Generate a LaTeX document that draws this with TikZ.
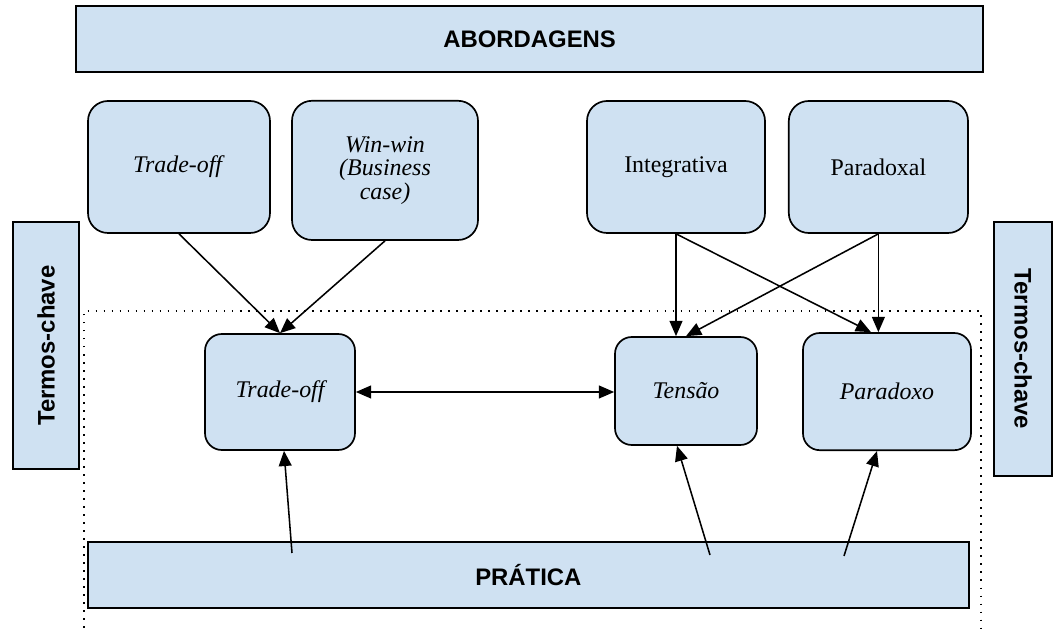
\documentclass[tikz,border=0pt]{standalone}
\usepackage{fontspec}
\setmainfont{Liberation Serif}
\setsansfont{Liberation Sans}
\usepackage{tikz}
\usetikzlibrary{arrows.meta,positioning,calc}
\definecolor{boxblue}{RGB}{207,225,242}

\begin{document}
\begin{tikzpicture}[
    band/.style={rectangle, draw, line width=1.2pt, fill=boxblue, font=\sffamily\bfseries\fontsize{17}{20}\selectfont},
    approach/.style={rectangle, rounded corners=0.5cm, draw, line width=1.2pt, fill=boxblue, align=center, font=\fontsize{17}{16.8}\selectfont, minimum width=4.55cm, minimum height=3.3cm},
    term/.style={rectangle, rounded corners=0.42cm, draw, line width=1.2pt, fill=boxblue, font=\itshape\fontsize{17}{17}\selectfont},
    arrow/.style={-{Triangle[length=0.38cm,width=0.32cm]}, line width=1.1pt},
    darrow/.style={{Triangle[length=0.38cm,width=0.32cm]}-{Triangle[length=0.38cm,width=0.32cm]}, line width=1.1pt},
    frame/.style={line width=1.2pt, dash pattern=on 1.2pt off 4.5pt}
]
\useasboundingbox (0,0) rectangle (26.4,-15.8);

% Practice area
\draw[frame] (2.1,-16.3) -- (2.1,-7.775) -- (24.525,-7.775) -- (24.525,-16.3);

% Approaches
\node[band, minimum width=22.68cm, minimum height=1.65cm] (abord) at (13.24,-0.975) {ABORDAGENS};

\node[approach] (tradeA) at (4.475,-4.175) {\textit{Trade-off}};
\node[approach, minimum width=4.65cm, minimum height=3.48cm] (winwin) at (9.625,-4.26) {\textit{Win-win}\\\textit{(Business}\\\textit{case)}};
\node[approach, minimum width=4.45cm] (integ) at (16.9,-4.175) {Integrativa};
\node[approach, minimum width=4.48cm] (paradoxal) at (21.96,-4.175) {Paradoxal};

% Key terms
\node[band, rotate=90, minimum width=6.18cm, minimum height=1.65cm] (termosL) at (1.15,-8.64) {Termos-chave};
\node[band, rotate=-90, minimum width=6.35cm, minimum height=1.45cm] (termosR) at (25.58,-8.725) {Termos-chave};

\node[term, minimum width=3.75cm, minimum height=2.9cm] (tradeB) at (7.0,-9.8) {Trade-off};
\node[term, minimum width=3.55cm, minimum height=2.7cm] (tensao) at (17.15,-9.775) {Tensão};
\node[term, minimum width=4.2cm, minimum height=2.93cm] (paradoxo) at (22.175,-9.79) {Paradoxo};

% Practice
\node[band, minimum width=22.03cm, minimum height=1.65cm] (pratica) at (13.21,-14.375) {PRÁTICA};

\coordinate (pA) at (7.3,-13.825);
\coordinate (pB) at (17.75,-13.875);
\coordinate (pC) at (21.1,-13.9);

% Links
\draw[arrow] (tradeA.south) -- (tradeB.north);
\draw[arrow] (winwin.south) -- (tradeB.north);
\draw[darrow] (tradeB.east) -- (tradeB.east -| tensao.west);

\draw[arrow] (integ.south) -- (integ.south |- tensao.north);
\draw[arrow] (integ.south) -- ([xshift=-0.4cm]paradoxo.north);
\draw[arrow] (paradoxal.south) -- (paradoxal.south |- paradoxo.north);
\draw[arrow] (paradoxal.south) -- (tensao.north);

\draw[arrow] (pA) -- ([xshift=0.1cm]tradeB.south);
\draw[arrow] (pB) -- ([xshift=-0.225cm]tensao.south);
\draw[arrow] (pC) -- ([xshift=-0.25cm]paradoxo.south);

\end{tikzpicture}
\end{document}
